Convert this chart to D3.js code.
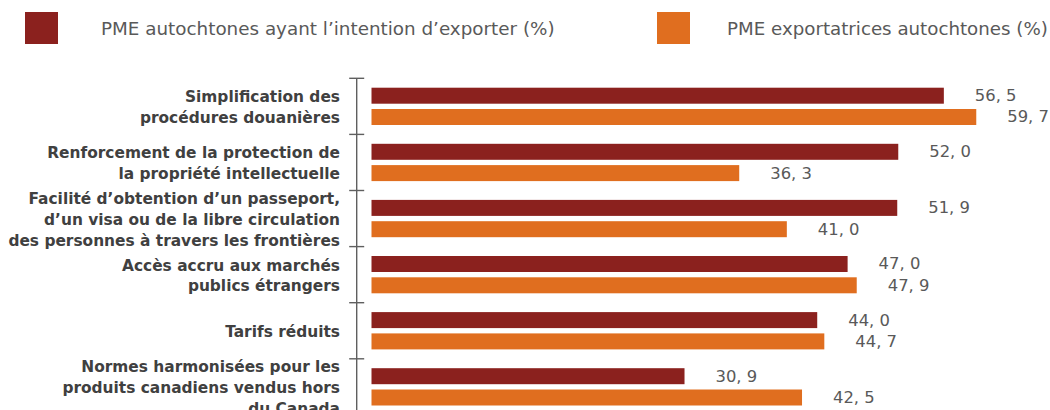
<!DOCTYPE html>
<html lang="fr">
<head>
<meta charset="utf-8">
<script src="https://cdn.jsdelivr.net/npm/d3@7"></script>
<style>
  html, body { margin: 0; padding: 0; background: #ffffff; }
  svg { display: block; }
</style>
</head>
<body>
<svg id="chart" width="1050" height="410"></svg>
<script>
// Obstacles cited by Indigenous SMEs (share of firms, %)
const categories = [
  "Simplification des\nprocédures douanières",
  "Renforcement de la protection de\nla propriété intellectuelle",
  "Facilité d’obtention d’un passeport,\nd’un visa ou de la libre circulation\ndes personnes à travers les frontières",
  "Accès accru aux marchés\npublics étrangers",
  "Tarifs réduits",
  "Normes harmonisées pour les\nproduits canadiens vendus hors\ndu Canada"
];
const seriesNames = [
  "PME autochtones ayant l’intention d’exporter (%)",
  "PME exportatrices autochtones (%)"
];
const intentionValues = [56.5, 52.0, 51.9, 47.0, 44.0, 30.9];
const exporterValues  = [59.7, 36.3, 41.0, 47.9, 44.7, 42.5];

const colors = ["#8B211E", "#E06E1F"];
const svg = d3.select("#chart");

const rows = categories.map((c, i) => ({
  category: c,
  values: [intentionValues[i], exporterValues[i]]
}));

// Scales
const x = d3.scaleLinear().domain([0, 60]).range([371.5, 979.3]);
const y = d3.scaleBand().domain(categories).range([78.3, 414.9]).padding(0);
const yInner = d3.scaleBand().domain([0, 1]).range([9.4, 46.7]).paddingInner(0.249).paddingOuter(0);

// Vertical axis with ticks at category boundaries
const axisX = 356.7;
const axisG = svg.append("g").attr("stroke", "#5f5f5f").attr("stroke-width", 1.4);
axisG.append("line")
  .attr("x1", axisX).attr("x2", axisX)
  .attr("y1", y.range()[0]).attr("y2", y.range()[1]);
const boundaries = categories.map(c => y(c)).concat([y.range()[1]]);
axisG.selectAll("line.tick").data(boundaries).join("line")
  .attr("class", "tick")
  .attr("x1", axisX - 7.5).attr("x2", axisX + 7.5)
  .attr("y1", d => d).attr("y2", d => d);

// Category labels (multi-line, right aligned)
const lineH = 20.7;
const catG = svg.append("g")
  .attr("font-family", "'DejaVu Sans', sans-serif")
  .attr("font-weight", "bold")
  .attr("font-size", "15.4px")
  .attr("fill", "#404040")
  .attr("text-anchor", "end");
catG.selectAll("text").data(categories).join("text")
  .each(function (c) {
    const lines = c.split("\n");
    const cy = y(c) + y.bandwidth() / 2 + 6.3;
    d3.select(this).selectAll("tspan").data(lines).join("tspan")
      .attr("x", 340)
      .attr("y", (l, i) => cy + (i - (lines.length - 1) / 2) * lineH)
      .text(l => l);
  });

// Bars
const fmt = v => d3.format(".1f")(v).replace(".", ", ");
const groups = svg.append("g").selectAll("g").data(rows).join("g")
  .attr("transform", d => `translate(0,${y(d.category)})`);

groups.selectAll("rect").data(d => d.values).join("rect")
  .attr("x", x(0))
  .attr("y", (v, i) => yInner(i))
  .attr("width", v => x(v) - x(0))
  .attr("height", yInner.bandwidth())
  .attr("fill", (v, i) => colors[i]);

groups.selectAll("text").data(d => d.values).join("text")
  .attr("x", v => x(v) + 31)
  .attr("y", (v, i) => yInner(i) + yInner.bandwidth() / 2)
  .attr("dominant-baseline", "central")
  .attr("font-family", "'DejaVu Sans', sans-serif")
  .attr("font-size", "16.4px")
  .attr("fill", "#595959")
  .text(v => fmt(v));

// Legend
const legendItems = [
  { name: seriesNames[0], color: colors[0], sx: 25, tx: 101, tw: 454 },
  { name: seriesNames[1], color: colors[1], sx: 657, tx: 727, tw: 321 }
];
const leg = svg.append("g");
leg.selectAll("rect").data(legendItems).join("rect")
  .attr("x", d => d.sx).attr("y", 12)
  .attr("width", 33).attr("height", 32)
  .attr("fill", d => d.color);
leg.selectAll("text").data(legendItems).join("text")
  .attr("x", d => d.tx).attr("y", 28)
  .attr("dominant-baseline", "central")
  .attr("font-family", "'DejaVu Sans', sans-serif")
  .attr("font-size", "16px")
  .attr("fill", "#595959")
  .text(d => d.name)
  .each(function (d) {
    const w = this.getComputedTextLength();
    d3.select(this).attr("font-size", (16 * d.tw / w).toFixed(2) + "px");
  });
</script>
</body>
</html>
